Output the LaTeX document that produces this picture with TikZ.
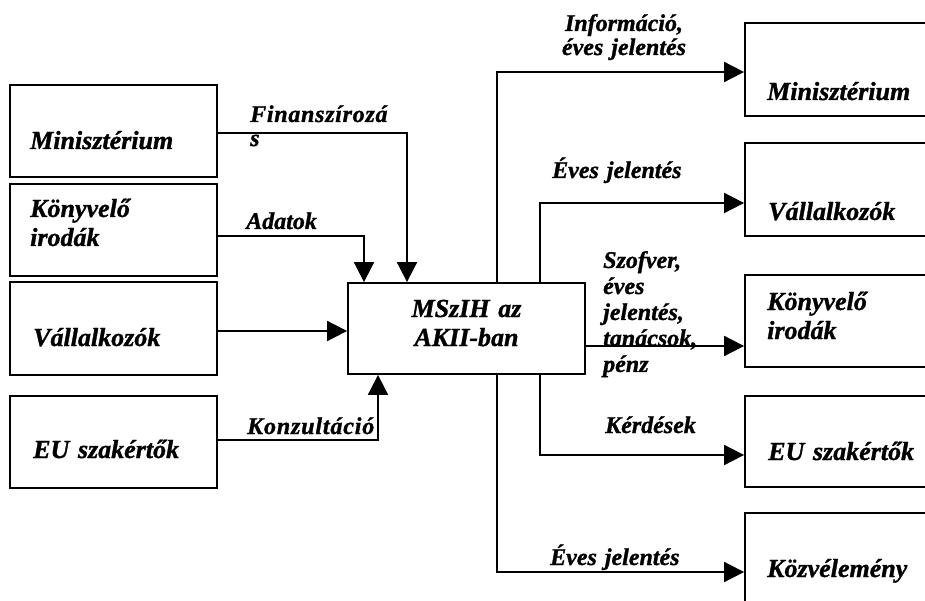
\documentclass[tikz,border=0pt]{standalone}
\usepackage{fontspec}
\setmainfont{Liberation Serif}[BoldItalicFeatures={FakeBold=1.2}]
\usetikzlibrary{arrows.meta}
\begin{document}
\begin{tikzpicture}[x=1pt,y=-1pt,
  box/.style={draw, line width=1.8pt, rectangle, inner sep=0pt},
  btxt/.style={font=\fontsize{26}{29}\selectfont\bfseries\itshape, inner sep=0pt, anchor=base west, align=left, text width=190pt},
  lbl/.style={font=\fontsize{24}{26}\selectfont\bfseries\itshape, inner sep=0pt, anchor=base west, align=left, text width=150pt},
  conn/.style={line width=1.8pt, -{Triangle[length=20pt,width=20pt]}}]
\useasboundingbox (0,0) rectangle (925,601);
\clip (0,0) rectangle (925,601);
% left boxes
\node[box, minimum width=207pt, minimum height=92pt] (lmin) at (113.5,131) {};
\node[box, minimum width=207pt, minimum height=92pt] (lkon) at (113.5,230) {};
\node[box, minimum width=207pt, minimum height=93pt] (lval) at (113.5,328.5) {};
\node[box, minimum width=207pt, minimum height=92pt] (leu) at (113.5,442) {};
\node[btxt] (lminT) at (30,149) {Minisztérium};
\node[btxt] (lkonT) at (30,217) {Könyvelő\\irodák};
\node[btxt] (lvalT) at (33,346) {Vállalkozók};
\node[btxt] (leuT) at (33,458) {EU szakértők};
% centre
\node[box, minimum width=237pt, minimum height=91pt] (c) at (466.5,328.5) {};
\node[btxt, anchor=base, align=center, text width=220pt] (cT) at (466.5,317) {MSzIH az\\AKII-ban};
% right boxes
\node[box, minimum width=205pt, minimum height=93pt] (rmin) at (847.5,69.5) {};
\node[box, minimum width=205pt, minimum height=93pt] (rval) at (847.5,189.5) {};
\node[box, minimum width=205pt, minimum height=92pt] (rkon) at (847.5,321) {};
\node[box, minimum width=205pt, minimum height=91pt] (reu) at (847.5,441.5) {};
\node[box, minimum width=205pt, minimum height=107pt] (rkoz) at (847.5,566.5) {};
\node[btxt] (rminT) at (767,100) {Minisztérium};
\node[btxt] (rvalT) at (768,220) {Vállalkozók};
\node[btxt] (rkonT) at (767,310) {Könyvelő\\irodák};
\node[btxt] (reuT) at (768,460) {EU szakértők};
\node[btxt] (rkozT) at (767,577) {Közvélemény};
% left connectors
\draw[conn] (lmin.east |- 0,133) -| (c.north -| 407,0);
\draw[conn] (lkon.east |- 0,236) -| (c.north -| 364,0);
\draw[conn] (lval.east |- 0,331) -- (c.west |- 0,331);
\draw[conn] (leu.east |- 0,440) -| (c.south -| 378,0);
% right connectors
\draw[conn] (c.north -| 497,0) |- (rmin.west |- 0,72);
\draw[conn] (c.south -| 497,0) |- (rkoz.west |- 0,572);
\draw[conn] (c.north -| 540,0) |- (rval.west |- 0,203);
\draw[conn] (c.east |- 0,346) -- (rkon.west |- 0,346);
\draw[conn] (c.south -| 540,0) |- (reu.west |- 0,455);
% labels
\node[lbl, font=\fontsize{24}{24}\selectfont\bfseries\itshape\addfontfeatures{LetterSpace=3}] (finL) at (250,122) {Finanszírozá\\s};
\node[lbl] (adaL) at (246,229) {Adatok};
\node[lbl, font=\fontsize{24}{26}\selectfont\bfseries\itshape\addfontfeatures{LetterSpace=3.5}] (konL) at (247,434) {Konzultáció};
\node[lbl, anchor=base, align=center, font=\fontsize{24}{24}\selectfont\bfseries\itshape] (infL) at (624,31) {Információ,\\éves jelentés};
\node[lbl] (ev1L) at (552,178) {Éves jelentés};
\node[lbl] (szoL) at (603,268) {Szofver,\\éves\\jelentés,\\tanácsok,\\pénz};
\node[lbl] (kerL) at (605,433) {Kérdések};
\node[lbl] (ev2L) at (550,565) {Éves jelentés};
\end{tikzpicture}
\end{document}
